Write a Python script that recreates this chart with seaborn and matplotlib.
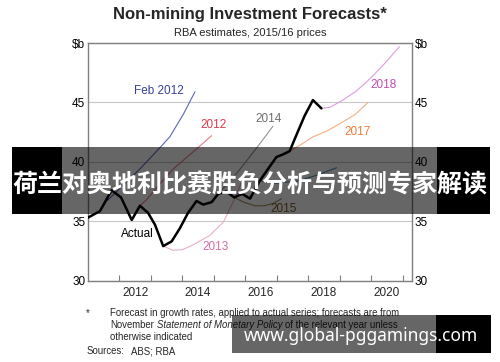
import seaborn as sns
import matplotlib.pyplot as plt
from matplotlib.patches import Rectangle

# values (x in decimal years, y in $b)
actual_x = [2011.0, 2011.38, 2011.75, 2012.05, 2012.39, 2012.65, 2012.91, 2013.13, 2013.39,
            2013.66, 2013.92, 2014.18, 2014.45, 2014.66, 2014.93, 2015.14, 2015.4, 2015.65,
            2015.9, 2016.15, 2016.46, 2016.67, 2016.99, 2017.18, 2017.41, 2017.68, 2017.89,
            2018.15, 2018.42]
actual_y = [35.3, 35.85, 37.6, 37.0, 35.1, 36.3, 35.7, 34.7, 32.9,
            33.3, 34.4, 35.7, 36.7, 36.4, 36.6, 37.3, 37.5, 37.0,
            37.3, 36.9, 38.4, 39.2, 40.4, 40.6, 40.9, 42.6, 43.9,
            45.2, 44.5]

feb2012_x = [2011.6, 2012.1, 2012.65, 2013.29, 2013.6, 2014.03, 2014.4]
feb2012_y = [36.7, 38.0, 39.4, 41.2, 42.1, 44.0, 45.9]

f2012_x = [2012.65, 2012.86, 2013.3, 2013.71, 2014.5, 2014.93]
f2012_y = [36.3, 36.8, 38.2, 39.4, 41.2, 42.2]

f2013_x = [2013.39, 2013.7, 2014.0, 2014.34, 2014.87, 2015.3, 2015.72, 2015.95]
f2013_y = [32.9, 32.55, 32.6, 33.0, 33.8, 34.9, 37.2, 38.8]

f2014_x = [2015.14, 2015.75, 2016.4, 2016.88]
f2014_y = [37.3, 39.1, 41.3, 43.0]

f2015_x = [2015.65, 2015.95, 2016.3, 2016.6, 2016.9, 2017.15]
f2015_y = [37.0, 36.6, 36.3, 36.3, 36.5, 36.9]

f2016_x = [2016.46, 2017.0, 2017.7, 2018.3, 2018.9]
f2016_y = [38.4, 38.2, 38.4, 38.9, 39.5]

f2017_x = [2017.41, 2017.8, 2018.15, 2018.6, 2019.0, 2019.5, 2019.9]
f2017_y = [40.9, 41.5, 42.1, 42.6, 43.2, 44.0, 45.0]

f2018_x = [2018.42, 2018.7, 2019.1, 2019.5, 2019.85, 2020.37, 2020.9]
f2018_y = [44.5, 44.6, 45.2, 45.9, 46.7, 48.1, 49.7]

year_labels = ["2012", "2014", "2016", "2018", "2020"]
y_ticks = [30, 35, 40, 45, 50]
y_labels = ["30", "35", "40", "45", "$b"]

sns.set_style("white")
plt.rcParams['font.family'] = ['Liberation Sans', 'DejaVu Sans']

fig = plt.figure(figsize=(5, 3.62), dpi=100)
ax = fig.add_axes([0.176, 0.225, 0.648, 0.656])

series = [
    (feb2012_x, feb2012_y, "#5b66bb", 0.8),
    (f2012_x, f2012_y, "#eb7a86", 0.8),
    (f2013_x, f2013_y, "#eaadcc", 0.8),
    (f2014_x, f2014_y, "#949494", 0.8),
    (f2015_x, f2015_y, "#a88a5a", 0.8),
    (f2016_x, f2016_y, "#4f93b5", 0.8),
    (f2017_x, f2017_y, "#f6ae82", 0.8),
    (f2018_x, f2018_y, "#db9de0", 0.8),
    (actual_x, actual_y, "black", 1.8),
]
for xs, ys, color, lw in series:
    sns.lineplot(x=xs, y=ys, ax=ax, color=color, linewidth=lw,
                 sort=False, estimator=None, zorder=3)

labels = [
    ("Feb 2012", 2013.25, 46.0, "#35409b"),
    ("2012", 2014.98, 43.1, "#e03848"),
    ("2014", 2016.73, 43.6, "#6e6e6e"),
    ("2018", 2020.4, 46.5, "#c24cb2"),
    ("2017", 2019.56, 42.5, "#f07a36"),
    ("2013", 2015.05, 32.8, "#d66aa6"),
    ("2015", 2017.22, 36.05, "#7a5c22"),
    ("Actual", 2012.56, 33.9, "black"),
]
for text, lx, ly, color in labels:
    ax.text(lx, ly, text, color=color, ha='center', va='center', fontsize=8.5)

ax.set_xlim(2011.0, 2021.3)
ax.set_ylim(30, 50)
ax.set_xlabel("")
ax.set_ylabel("")

ax.set_yticks(y_ticks)
ax.set_yticklabels(y_labels)
ax.yaxis.grid(True, color="#c8c8c8", linewidth=0.8)
ax.tick_params(axis='y', length=0, pad=2, labelleft=True, labelright=True,
               labelsize=8.5, colors='black')

ax.set_xticks(range(2012, 2022))
ax.set_xticklabels([])
ax.set_xticks([int(y) + 0.5 for y in year_labels], minor=True)
ax.set_xticklabels(year_labels, minor=True)
ax.tick_params(axis='x', which='major', direction='in', length=4, width=0.8,
               color='#7f7f7f', bottom=True)
ax.tick_params(axis='x', which='minor', length=0, pad=5, labelsize=8.5)

for sp in ax.spines.values():
    sp.set_visible(True)
    sp.set_color('#7f7f7f')
    sp.set_linewidth(1.0)


def fx(px):
    return px / 500


def fy(py):
    return 1 - py / 362


fig.text(0.5, fy(15), "Non-mining Investment Forecasts*", ha='center', va='center',
         fontsize=12, fontweight='bold')
fig.text(0.5, fy(32.5), "RBA estimates, 2015/16 prices", ha='center', va='center', fontsize=8)

# footnotes
fs = 6.9
fig.text(fx(88), fy(313), "*", ha='center', va='center', fontsize=fs)
fig.text(fx(110), fy(313), "Forecast in growth rates, applied to actual series; forecasts are from",
         va='center', fontsize=fs)
t1 = fig.text(fx(110), fy(325), "November", va='center', fontsize=fs)
t2 = ax.annotate("Statement of Monetary Policy", xy=(1, 0), xycoords=t1,
                 xytext=(2, 0), textcoords='offset points',
                 va='bottom', ha='left', fontsize=fs, style='italic')
ax.annotate("of the relevant year unless", xy=(1, 0), xycoords=t2,
            xytext=(2, 0), textcoords='offset points',
            va='bottom', ha='left', fontsize=fs)
fig.text(fx(110), fy(337), "otherwise indicated", va='center', fontsize=fs)
fig.text(fx(87), fy(351), "Sources:", va='center', fontsize=fs)
fig.text(fx(131), fy(351), "ABS; RBA", va='center', fontsize=fs)

# overlay banners
def box(x0, y0, x1, y1, color, alpha):
    fig.add_artist(Rectangle((fx(x0), fy(y1)), fx(x1) - fx(x0), fy(y0) - fy(y1),
                             transform=fig.transFigure, facecolor=color,
                             edgecolor='none', alpha=alpha, zorder=5))


box(62, 147, 437, 214, 'black', 0.6)
box(12, 147, 62, 214, 'black', 1.0)
box(437, 147, 490, 214, 'black', 1.0)
fig.text(0.5, fy(185), "荷兰对奥地利比赛胜负分析与预测专家解读", ha='center', va='center',
         fontsize=18, fontweight='bold', color='white', zorder=6,
         family=['Noto Sans CJK SC', 'DejaVu Sans'])

box(232, 315, 436, 353, 'black', 0.6)
box(436, 315, 491, 353, 'black', 1.0)
fig.text(fx(361), fy(336), "www.global-pggamings.com", ha='center', va='center',
         fontsize=12.5, fontweight='bold', color='white', zorder=6,
         family=['Noto Sans', 'DejaVu Sans'])

fig.savefig("out.png", dpi=100)
